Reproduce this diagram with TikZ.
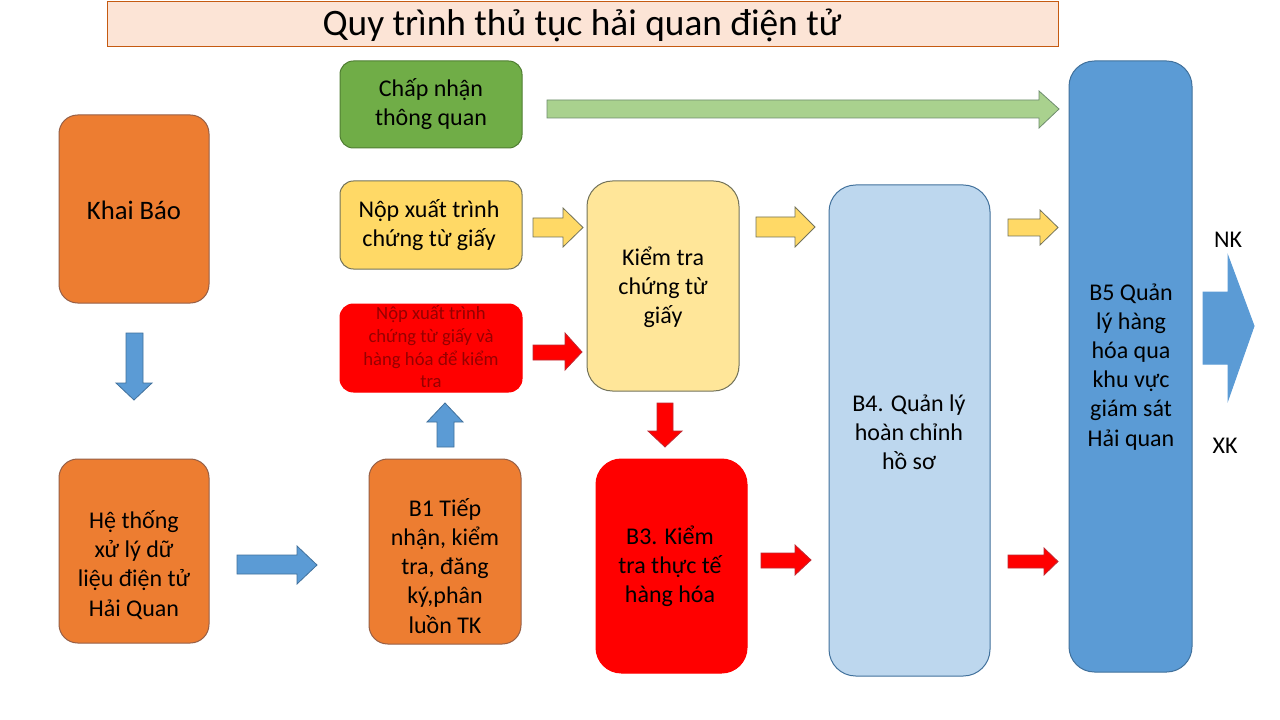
\documentclass[tikz,border=0pt]{standalone}
\usepackage{fontspec}
\setmainfont{Carlito}

\definecolor{titlefill}{RGB}{252,228,214}
\definecolor{titleline}{RGB}{197,90,17}
\definecolor{orangefill}{RGB}{237,125,49}
\definecolor{orangeline}{RGB}{150,95,70}
\definecolor{greenfill}{RGB}{112,173,71}
\definecolor{greenline}{RGB}{80,126,50}
\definecolor{yellowfill}{RGB}{255,217,102}
\definecolor{paleyellow}{RGB}{255,230,153}
\definecolor{yellowline}{RGB}{115,115,90}
\definecolor{redfill}{RGB}{255,0,0}
\definecolor{redline}{RGB}{190,40,50}
\definecolor{redtext}{RGB}{150,0,0}
\definecolor{paleblue}{RGB}{189,215,238}
\definecolor{bluefill}{RGB}{91,155,213}
\definecolor{blueline}{RGB}{65,113,156}
\definecolor{palegreen}{RGB}{169,209,142}
\definecolor{palegreenline}{RGB}{110,140,110}

\tikzset{every picture/.style={line width=0.75pt}}
\tikzset{
  txt/.style={align=center, inner sep=0.75pt, font=\fontsize{18}{21.8}\selectfont},
  smalltxt/.style={align=center, inner sep=0.75pt, text=redtext, font=\fontsize{14}{17}\selectfont},
  orangebox/.style={draw=orangeline, fill=orangefill, rounded corners=14pt},
  yarrow/.style={draw=yellowline, fill=yellowfill, line width=0.6pt},
  rarrow/.style={draw=redline, fill=redfill, line width=0.6pt},
  barrow/.style={draw=blueline, fill=bluefill, line width=0.6pt}
}

\begin{document}
\begin{tikzpicture}[x=0.75pt,y=0.75pt,yscale=-1,xscale=1]
\path [use as bounding box, fill=white] (0,0) rectangle (1280,720);

%Shape: Rectangle (title)
\draw [draw=titleline, fill=titlefill] (107,2) rectangle (1058,47);

%Shape: Rounded Rect (left column)
\draw [orangebox] (59,115) rectangle (209,303);
\draw [orangebox] (59,459) rectangle (209,643);
%Shape: Rounded Rect (second column)
\draw [draw=greenline, fill=greenfill, rounded corners=10pt] (340,61) rectangle (522,148);
\draw [draw=yellowline, fill=yellowfill, rounded corners=10pt] (340,181) rectangle (522,269);
\draw [draw=redfill, fill=redfill, rounded corners=10pt] (340,304) rectangle (522,392);
\draw [orangebox] (369,459) rectangle (521,644);
%Shape: Rounded Rect (third column)
\draw [draw=yellowline, fill=paleyellow, rounded corners=19pt] (587,181) rectangle (739,391);
\draw [draw=redfill, fill=redfill, rounded corners=19pt] (596,459) rectangle (747,673);
%Shape: Rounded Rect (tall boxes)
\draw [draw=blueline, fill=paleblue, rounded corners=20pt] (829,185) rectangle (990,676);
\draw [draw=blueline, fill=bluefill, rounded corners=19pt] (1069,61) rectangle (1192,672);

%Shape: Right Arrow (green)
\draw [draw=palegreenline, fill=palegreen, line width=0.6pt] (547,100) -- (1039,100) -- (1039,91) -- (1059,109) -- (1039,128) -- (1039,118) -- (547,118) -- cycle ;
%Shape: Right Arrow (yellow)
\draw [yarrow] (533,218) -- (563,218) -- (563,208) -- (583,227.5) -- (563,247) -- (563,237) -- (533,237) -- cycle ;
\draw [yarrow] (756,217) -- (795,217) -- (795,207) -- (815,227) -- (795,247) -- (795,237) -- (756,237) -- cycle ;
\draw [yarrow] (1008,219) -- (1040,219) -- (1040,210) -- (1058,227.5) -- (1040,245) -- (1040,236) -- (1008,236) -- cycle ;
%Shape: Right Arrow (red)
\draw [rarrow] (533,345) -- (565,345) -- (565,333) -- (582,352) -- (565,370) -- (565,360) -- (533,360) -- cycle ;
\draw [rarrow] (761,553) -- (795,553) -- (795,545) -- (811,560) -- (795,575) -- (795,568) -- (761,568) -- cycle ;
\draw [rarrow] (1008,555) -- (1044,555) -- (1044,548) -- (1058,561.5) -- (1044,575) -- (1044,568) -- (1008,568) -- cycle ;
%Shape: Down Arrow (red)
\draw [rarrow] (657,403) -- (673,403) -- (673,431) -- (682,431) -- (665,447) -- (648,431) -- (657,431) -- cycle ;
%Shape: Down Arrow (blue)
\draw [barrow] (126,333) -- (143,333) -- (143,383) -- (152,383) -- (134,400) -- (116,383) -- (126,383) -- cycle ;
%Shape: Right Arrow (blue)
\draw [barrow] (237,555) -- (297,555) -- (297,546) -- (317,565) -- (297,584) -- (297,574) -- (237,574) -- cycle ;
%Shape: Up Arrow (blue)
\draw [barrow] (437,447) -- (454,447) -- (454,422) -- (463,422) -- (445,403) -- (427,422) -- (437,422) -- cycle ;
%Shape: Right Arrow (big blue)
\draw [draw=bluefill, fill=bluefill] (1203,292) -- (1228,292) -- (1228,256) -- (1254,326) -- (1228,400) -- (1228,364) -- (1203,364) -- cycle ;

% Text Node
\draw (582,25) node [txt, font=\fontsize{28}{34}\selectfont] (title) {Quy trình thủ tục hải quan điện tử};
% Text Node
\draw (134,210) node [txt, font=\fontsize{20}{24}\selectfont] (khai) {Khai Báo};
% Text Node
\draw (134,565) node [txt] (hethong) {Hệ thống\\xử lý dữ\\liệu điện tử\\Hải Quan};
% Text Node
\draw (431,104) node [txt] (chapnhan) {Chấp nhận\\thông quan};
% Text Node
\draw (429,225) node [txt] (nop) {Nộp xuất trình\\chứng từ giấy};
% Text Node
\draw (431,347) node [smalltxt] (nopkt) {Nộp xuất trình\\chứng từ giấy và\\hàng hóa để kiểm\\tra};
% Text Node
\draw (445,566) node [txt] (b1) {B1 Tiếp\\nhận, kiểm\\tra, đăng\\ký,phân\\luồn TK};
% Text Node
\draw (663,287) node [txt] (kiemtra) {Kiểm tra\\chứng từ\\giấy};
% Text Node
\draw (670,566) node [txt] (b3) {B3. Kiểm\\tra thực tế\\hàng hóa};
% Text Node
\draw (909,432) node [txt] (b4) {B4. Quản lý\\hoàn chỉnh\\hồ sơ};
% Text Node
\draw (1131,367) node [txt] (b5) {B5 Quản\\lý hàng\\hóa qua\\khu vực\\giám sát\\Hải quan};
% Text Node
\draw (1228,240) node [txt] (nk) {NK};
% Text Node
\draw (1225,446) node [txt] (xk) {XK};

\end{tikzpicture}
\end{document}
